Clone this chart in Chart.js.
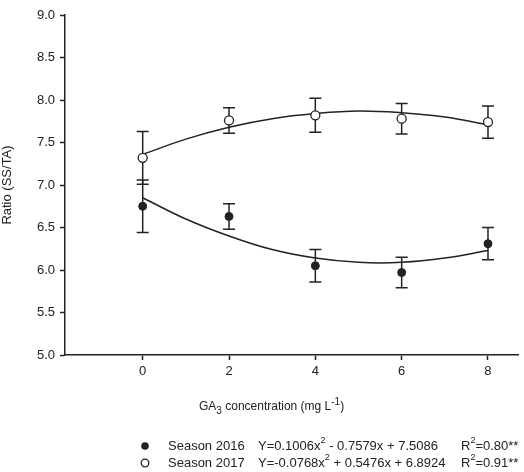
<!DOCTYPE html>
<html>
<head>
<meta charset="utf-8">
<script src="https://cdn.jsdelivr.net/npm/chart.js@4"></script>
<style>
  body { margin: 0; background: #fff; }
  #wrap { width: 524px; height: 472px; position: relative; }
</style>
</head>
<body>
<div id="wrap"><canvas id="myChart"></canvas></div>
<script>
// GA3 doses (mg L-1) and measured ratio
var doses = [0, 2, 4, 6, 8];
var season2016 = [6.75, 6.63, 6.05, 5.97, 6.31];
var season2016Err = [0.31, 0.15, 0.19, 0.18, 0.19];
var season2017 = [7.32, 7.76, 7.82, 7.78, 7.74];
var season2017Err = [0.31, 0.15, 0.20, 0.18, 0.19];

// fitted curves
var curveX = [0, 1, 2, 3, 4, 5, 6, 7, 8];
var curve2016 = [6.85, 6.60, 6.40, 6.24, 6.14, 6.09, 6.09, 6.14, 6.23];
var curve2017 = [7.36, 7.54, 7.68, 7.78, 7.84, 7.87, 7.85, 7.80, 7.71];

var xTicks = [0, 2, 4, 6, 8];
var yTicks = [5.0, 5.5, 6.0, 6.5, 7.0, 7.5, 8.0, 8.5, 9.0];

var legendNames = ['Season 2016', 'Season 2017'];
var legendEquations = [
    [['Y=0.1006x', 0], ['2', 1], [' - 0.7579x + 7.5086', 0]],
    [['Y=-0.0768x', 0], ['2', 1], [' + 0.5476x + 6.8924', 0]]
];
var legendR2 = [
    [['R', 0], ['2', 1], ['=0.80**', 0]],
    [['R', 0], ['2', 1], ['=0.91**', 0]]
];
var xTitle = [['GA', 0], ['3', -1], [' concentration (mg L', 0], ['-1', 1], [')', 0]];

var FONT = '"Liberation Sans", Arial, sans-serif';
var INK = '#222';

function toPoints(xs, ys) {
    return xs.map(function(x, i) { return { x: x, y: ys[i] }; });
}

// draws text with super (1) / sub (-1) scripts, returns end x
function drawRich(ctx, parts, x, y, size, small) {
    parts.forEach(function(p) {
        var s = p[1] === 0 ? size : small;
        var dy = p[1] === 1 ? -5 : (p[1] === -1 ? 4 : 0);
        ctx.font = s + 'px ' + FONT;
        ctx.fillText(p[0], x, y + dy);
        x += ctx.measureText(p[0]).width;
    });
    return x;
}

var errorBars = {
    id: 'errorBars',
    beforeDatasetsDraw: function(chart) {
        var ctx = chart.ctx;
        var xs = chart.scales.x, ys = chart.scales.y;
        var sets = [[season2016, season2016Err], [season2017, season2017Err]];
        ctx.save();
        ctx.strokeStyle = INK;
        ctx.lineWidth = 1.5;
        sets.forEach(function(s) {
            doses.forEach(function(d, i) {
                var px = xs.getPixelForValue(d);
                var top = ys.getPixelForValue(s[0][i] + s[1][i]);
                var bot = ys.getPixelForValue(s[0][i] - s[1][i]);
                ctx.beginPath();
                ctx.moveTo(px, top); ctx.lineTo(px, bot);
                ctx.moveTo(px - 6, top); ctx.lineTo(px + 6, top);
                ctx.moveTo(px - 6, bot); ctx.lineTo(px + 6, bot);
                ctx.stroke();
            });
        });
        ctx.restore();
    }
};

var textBits = {
    id: 'textBits',
    afterDraw: function(chart) {
        var ctx = chart.ctx;
        ctx.save();
        ctx.fillStyle = INK;
        ctx.textBaseline = 'middle';
        drawRich(ctx, xTitle, 199, 407, 12, 10);

        var rows = [446, 463];
        rows.forEach(function(ry, i) {
            ctx.beginPath();
            ctx.arc(145, ry, 3.8, 0, Math.PI * 2);
            if (i === 0) {
                ctx.fillStyle = INK;
                ctx.fill();
            } else {
                ctx.fillStyle = '#fff';
                ctx.fill();
                ctx.strokeStyle = INK;
                ctx.lineWidth = 1.3;
                ctx.stroke();
            }
            ctx.fillStyle = INK;
            ctx.font = '13px ' + FONT;
            ctx.fillText(legendNames[i], 168, ry);
            drawRich(ctx, legendEquations[i], 258, ry, 13, 9);
            drawRich(ctx, legendR2[i], 461, ry, 13, 9);
        });
        ctx.restore();
    }
};

var ctx = document.getElementById('myChart').getContext('2d');
var myChart = new Chart(ctx, {
    type: 'scatter',
    data: {
        datasets: [{
            label: 'Season 2016',
            data: toPoints(doses, season2016),
            pointRadius: 4,
            pointBackgroundColor: INK,
            pointBorderColor: INK,
            pointBorderWidth: 1
        },
        {
            label: 'Season 2017',
            data: toPoints(doses, season2017),
            pointRadius: 4.5,
            pointBackgroundColor: '#fff',
            pointBorderColor: INK,
            pointBorderWidth: 1.3
        },
        {
            label: 'fit 2016',
            type: 'line',
            data: toPoints(curveX, curve2016),
            showLine: true,
            pointRadius: 0,
            tension: 0.4,
            borderColor: INK,
            borderWidth: 1.5
        },
        {
            label: 'fit 2017',
            type: 'line',
            data: toPoints(curveX, curve2017),
            showLine: true,
            pointRadius: 0,
            tension: 0.4,
            borderColor: INK,
            borderWidth: 1.5
        }]
    },
    options: {
        responsive: true,
        maintainAspectRatio: false,
        animation: false,
        layout: { padding: { top: 15, right: 0, left: 0, bottom: 0 } },
        plugins: {
            legend: { display: false },
            tooltip: { enabled: false }
        },
        scales: {
            x: {
                type: 'linear',
                min: -1.8,
                max: 8.7,
                afterBuildTicks: function(scale) {
                    scale.ticks = xTicks.map(function(v) { return { value: v }; });
                },
                afterFit: function(scale) { scale.height = 117; },
                grid: { drawOnChartArea: false, drawTicks: true, tickLength: 5, color: INK, tickWidth: 1.5 },
                border: { display: true, color: INK, width: 1.5 },
                ticks: { color: INK, padding: 4, font: { size: 13, family: FONT }, maxRotation: 0 }
            },
            y: {
                min: 5,
                max: 9,
                afterBuildTicks: function(scale) {
                    scale.ticks = yTicks.map(function(v) { return { value: v }; });
                },
                afterFit: function(scale) { scale.width = 65; },
                grid: { drawOnChartArea: false, drawTicks: true, tickLength: 5, color: INK, tickWidth: 1.5 },
                border: { display: true, color: INK, width: 1.5 },
                ticks: {
                    color: INK,
                    padding: 5,
                    font: { size: 13, family: FONT },
                    callback: function(v) { return Number(v).toFixed(1); }
                },
                title: {
                    display: true,
                    text: 'Ratio (SS/TA)',
                    color: INK,
                    padding: { top: 0, bottom: 0 },
                    font: { size: 13, family: FONT }
                }
            }
        }
    },
    plugins: [errorBars, textBits]
});
</script>
</body>
</html>
